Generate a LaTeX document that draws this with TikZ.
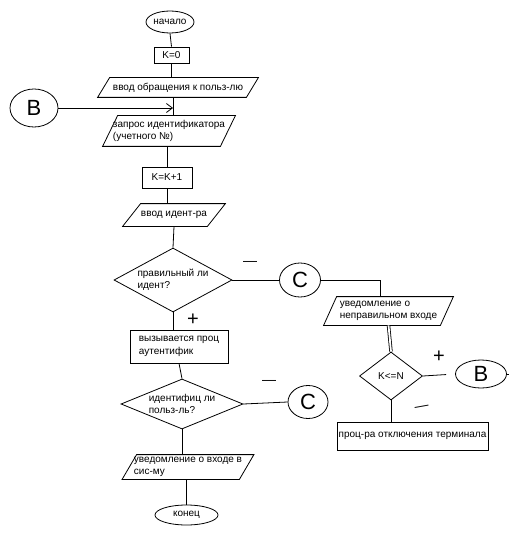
\documentclass[tikz,border=0pt]{standalone}
\usepackage{fontspec}
\setmainfont{Liberation Sans}
\usetikzlibrary{shapes.geometric,arrows.meta}
\begin{document}
\begin{tikzpicture}[x=1pt,y=-1pt, line width=0.8pt,
  txt/.style={font=\fontsize{10}{12.5}\selectfont, align=left, inner sep=0pt},
  term/.style={txt, ellipse, draw},
  proc/.style={txt, rectangle, draw},
  io/.style={txt, rectangle},
  dec/.style={txt, diamond, draw},
  conn/.style={ellipse, draw, inner sep=0pt, font=\fontsize{22}{22}\selectfont},
  sign/.style={inner sep=0pt, font=\fontsize{14}{14}\selectfont},
  plussign/.style={inner sep=0pt, font=\fontsize{20}{20}\selectfont}
]
\useasboundingbox[fill=white] (0,0) rectangle (509,548);

\node[term, minimum width=48pt, minimum height=22pt] (start) at (170,22) {начало};
\node[proc, minimum width=35pt, minimum height=16pt] (k0) at (171.5,55) {K=0};
\node[io, minimum width=148pt, minimum height=19pt] (p1) at (178,87.5) {ввод обращения к польз-лю};
\node[conn, minimum width=48pt, minimum height=38pt] (b1) at (34,108) {В};
\coordinate (j) at (173,108);
\node[io, minimum width=117pt, minimum height=30pt] (p2) at (169,131) {запрос идентификатора\\(учетного №)};
\node[proc, minimum width=50pt, minimum height=21pt] (kk) at (167,177.5) {K=K+1};
\node[io, minimum width=84pt, minimum height=22pt] (p3) at (174,215) {ввод идент-ра};
\node[dec, shape aspect=1.84, minimum width=118pt, minimum height=64pt] (d1) at (173,280) {правильный ли\\идент?};
\node[conn, minimum width=41pt, minimum height=34pt] (c1) at (300,280) {С};
\node[proc, minimum width=98pt, minimum height=33pt] (r1) at (179,346.5) {вызывается проц\\аутентифик};
\node[dec, shape aspect=2.44, minimum width=122pt, minimum height=50pt] (d2) at (182,404) {идентифиц ли\\польз-ль?};
\node[conn, minimum width=40pt, minimum height=33pt] (c2) at (308,402) {С};
\node[io, minimum width=116.5pt, minimum height=24pt] (p5) at (188,467) {уведомление о входе в\\сис-му};
\node[term, minimum width=63pt, minimum height=20pt] (end) at (186.5,515) {конец};
\node[io, minimum width=116pt, minimum height=28pt] (p4) at (388.5,311) {уведомление о\\неправильном входе};
\node[dec, shape aspect=1.31, minimum width=63pt, minimum height=48pt] (d3) at (391,376) {K<=N};
\node[conn, minimum width=51pt, minimum height=28pt] (b2) at (481,374) {В};
\coordinate (stub) at (509,374);
\node[proc, minimum width=151pt, minimum height=28pt] (r2) at (412.5,436) {проц-ра отключения терминала};

\foreach \n/\s in {p1/12, p2/15, p3/18, p4/13, p5/14.5}
  \draw ([xshift=-\s/2]\n.south west) -- ([xshift=-\s/2]\n.south east)
     -- ([xshift=\s/2]\n.north east) -- ([xshift=\s/2]\n.north west) -- cycle;

\draw (start.south) -- (k0.north);
\draw (k0.south) -- (k0.south |- p1.north);
\draw (p1.south -| j) -- (p2.north -| j);
\draw[-{Straight Barb[length=6pt,width=9pt]}] (b1.east) -- (j);
\draw (p2.south -| kk.north) -- (kk.north);
\draw (kk.south) -- (kk.south |- p3.north);
\draw (p3.south) -- (d1.north);
\draw (d1.east) -- (c1.west);
\draw (d1.south) -- (d1.south |- r1.north);
\draw (r1.south) -- (d2.north);
\draw (d2.east) -- (c2.west);
\draw (d2.south) -- (d2.south |- p5.north);
\draw (p5.south -| end.north) -- (end.north);
\draw (c1.east) -| ([xshift=-8pt]p4.north);
\draw[double, double distance=1.8pt] (p4.south) -- (d3.north);
\draw[shorten >=9pt] (d3.east) -- (b2.west);
\draw (b2.east) -- (stub);
\draw (d3.south) -- (d3.south |- r2.north);

\node[sign] (m1) at (250,263) {—};
\node[plussign] (pl1) at (193,320) {+};
\node[sign] (m2) at (269,382) {—};
\node[plussign] (pl2) at (439,357) {+};
\node[sign, rotate=10] (m3) at (422,408) {—};
\end{tikzpicture}
\end{document}
